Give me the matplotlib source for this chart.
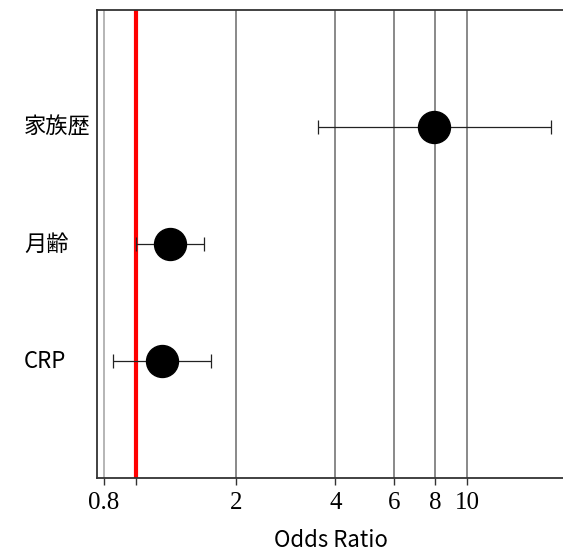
import matplotlib
matplotlib.use("Agg")
import matplotlib.pyplot as plt
import matplotlib.transforms as mtransforms

# Odds ratios with 95% confidence intervals
labels = ["CRP", "月齢", "家族歴"]
odds_ratio = [1.20, 1.27, 7.95]
ci_low = [0.85, 1.00, 3.55]
ci_high = [1.69, 1.60, 17.9]

xticks = [0.8, 1, 2, 4, 6, 8, 10]
xtick_labels = ["0.8", "", "2", "4", "6", "8", "10"]

plt.rcParams["font.family"] = ["Noto Sans CJK JP", "DejaVu Sans"]

fig = plt.figure(figsize=(5.63, 5.52), dpi=100)
ax = fig.add_axes([97 / 563, 74 / 552, 1 - 97 / 563 + 0.002, (478 - 10) / 552])

ax.set_xscale("log")
ax.set_xlim(0.763, 19.6)
ax.set_ylim(0, 4)

# vertical reference grid
for t in xticks:
    if t == 1:
        continue
    col = "#b0b0b0" if t < 1 else "#808080"
    ax.axvline(t, color=col, lw=1.3, zorder=1)
ax.axvline(1, color="#ff0000", lw=3, zorder=2)

ypos = list(range(1, len(labels) + 1))
err = [[o - l for o, l in zip(odds_ratio, ci_low)],
       [h - o for o, h in zip(odds_ratio, ci_high)]]
ax.errorbar(odds_ratio, ypos, xerr=err, fmt="o", color="black",
            ecolor="#222222", elinewidth=0.9, capsize=5, capthick=0.9,
            markersize=23, zorder=3)

ax.set_xticks(xticks)
ax.set_xticklabels(xtick_labels, family="Liberation Serif", fontsize=18)
ax.xaxis.set_minor_locator(matplotlib.ticker.NullLocator())
ax.tick_params(axis="x", length=5, width=1, color="#333333", pad=5)
ax.set_yticks([])
ax.set_xlabel("Odds Ratio", fontsize=16, labelpad=11)

trans = mtransforms.blended_transform_factory(fig.transFigure, ax.transData)
for y, lab in zip(ypos, labels):
    ax.text(24 / 563, y, lab, transform=trans, ha="left", va="center",
            fontsize=16)

for s in ["left", "top", "bottom"]:
    ax.spines[s].set_color("#333333")
    ax.spines[s].set_linewidth(1.3)
ax.spines["right"].set_visible(False)

fig.savefig("out.png", dpi=100)
